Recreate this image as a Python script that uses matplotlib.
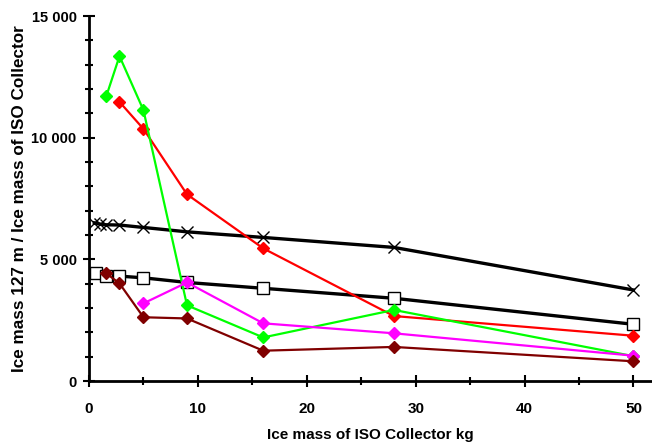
import matplotlib
matplotlib.use("Agg")
import matplotlib.pyplot as plt
from matplotlib.ticker import MultipleLocator, FuncFormatter

plt.rcParams['font.family'] = ['Liberation Sans', 'DejaVu Sans']
plt.rcParams['font.weight'] = 'bold'

# Data
x_cross = [0.5, 1.0, 1.6, 2.8, 5, 9, 16, 28, 50]
y_cross = [6500, 6450, 6420, 6410, 6310, 6130, 5900, 5490, 3740]

x_square = [0.6, 1.6, 2.8, 5, 9, 16, 28, 50]
y_square = [4420, 4310, 4310, 4240, 4050, 3810, 3400, 2330]

x_red = [2.8, 5, 9, 16, 28, 50]
y_red = [11470, 10360, 7670, 5450, 2670, 1860]

x_green = [1.6, 2.8, 5, 9, 16, 28, 50]
y_green = [11720, 13350, 11130, 3110, 1790, 2920, 1020]

x_magenta = [5, 9, 16, 28, 50]
y_magenta = [3190, 4050, 2370, 1960, 1040]

x_maroon = [1.6, 2.8, 5, 9, 16, 28, 50]
y_maroon = [4420, 4010, 2620, 2570, 1245, 1400, 810]

x_label = "Ice mass of ISO Collector kg"
y_label = "Ice mass 127 m / Ice mass of ISO Collector"

fig = plt.figure(figsize=(6.52, 4.44), dpi=100)
ax = fig.add_axes([89/652, 63/444, 1 - 89/652, (381-16)/444])

ax.plot(x_cross, y_cross, color='black', lw=2.4, marker='x', ms=9, mew=1.0, zorder=3)
ax.plot(x_square, y_square, color='black', lw=2.4, marker='s', ms=8, mfc='white', mec='black', mew=1.0, zorder=3)
ax.plot(x_red, y_red, color='#ff0000', lw=1.6, marker='D', ms=6, zorder=4)
ax.plot(x_green, y_green, color='#00ff00', lw=1.6, marker='D', ms=6, zorder=4)
ax.plot(x_magenta, y_magenta, color='#ff00ff', lw=1.6, marker='D', ms=6, zorder=5)
ax.plot(x_maroon, y_maroon, color='#800000', lw=1.6, marker='D', ms=6, zorder=5)

ax.set_xlim(0, 51.7)
ax.set_ylim(0, 15000)
ax.spines['top'].set_visible(False)
ax.spines['right'].set_visible(False)
for s in ['left', 'bottom']:
    ax.spines[s].set_linewidth(2.0)

ax.xaxis.set_major_locator(MultipleLocator(10))
ax.xaxis.set_minor_locator(MultipleLocator(5))
ax.yaxis.set_major_locator(MultipleLocator(5000))
ax.yaxis.set_minor_locator(MultipleLocator(1000))
ax.yaxis.set_major_formatter(FuncFormatter(lambda v, p: f"{int(v):,}".replace(",", " ")))

ax.tick_params(axis='both', which='both', direction='inout', width=1.5)
ax.tick_params(axis='both', which='major', length=8)
ax.tick_params(axis='both', which='minor', length=6)
ax.tick_params(axis='x', which='major', pad=11, labelsize=11)
ax.tick_params(axis='y', which='major', pad=5, labelsize=10.5)

ax.set_xlabel(x_label, fontsize=11, fontweight='bold', labelpad=9)
ax.set_ylabel(y_label, fontsize=12.3, fontweight='bold', labelpad=3)

fig.savefig("out.png", dpi=100)
